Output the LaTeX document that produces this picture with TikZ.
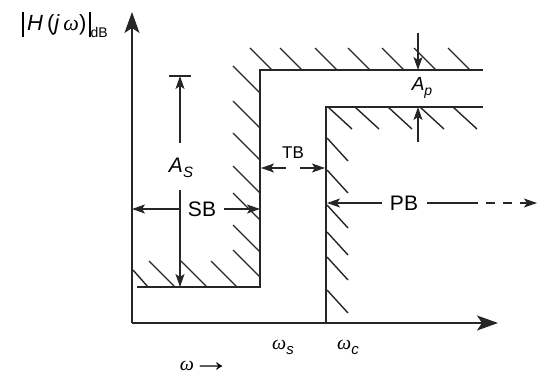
\documentclass[tikz,border=0pt]{standalone}
\usepackage{fontspec}
\usepackage{graphicx}
\setmainfont{Liberation Sans}
\newfontfamily\omfont{Liberation Serif}
\usetikzlibrary{arrows.meta}
\newcommand{\om}{{\omfont\itshape ω}}
\tikzset{
  mainline/.style={line width=1.7pt, color=black!85},
  hatch/.style={line width=1.4pt, color=black!85},
  dim/.style={line width=1.3pt, color=black!85},
  dimtip/.style={-{Stealth[length=13pt,width=9pt,inset=3pt]}},
  axtip/.style={-{Stealth[length=21pt,width=15pt,inset=5pt]}},
  lbl/.style={inner sep=0pt, font=\fontsize{21}{24}\selectfont},
}
\begin{document}
\begin{tikzpicture}[x=1pt,y=-1pt]
\useasboundingbox (0,0) rectangle (538,379);
% key points
\coordinate (O) at (132,323);
\coordinate (Ytop) at (132,12);
\coordinate (Xend) at (498,323);
\coordinate (SBl) at (137,287);
\coordinate (SBc) at (260,287);
\coordinate (TLc) at (260,70);
\coordinate (TR) at (483,70);
\coordinate (PBb) at (326,323);
\coordinate (PBc) at (326,107);
\coordinate (PR) at (483,107);

% axes
\draw[mainline,axtip] (O) -- (Ytop);
\draw[mainline,axtip] (O) -- (Xend);

% stopband / passband boundaries
\draw[mainline] (SBl) -- (SBc) -- (TLc) -- (TR);
\draw[mainline] (PBb) -- (PBc) -- (PR);

% hatches above top line
\foreach \x in {272,302,337,370,404,436,470}
  \draw[hatch] (\x,70) -- ++(-22,-22);
% hatches left of stopband edge
\foreach \y in {93,128,160,193,220,252,277}
  \draw[hatch] (260,\y) -- ++(-27,-27);
% hatches above stopband floor
\draw[hatch] (148,287) -- ++(-15,-17);
\foreach \x in {175,207,237}
  \draw[hatch] (\x,287) -- ++(-26,-26);
% hatches below passband line
\foreach \x in {328,355,388,420,453}
  \draw[hatch] (\x,107) -- ++(24,22);
% hatches right of passband edge
\foreach \y in {138,170,205,232,257,290}
  \draw[hatch] (327,\y) -- ++(21,23);

% A_S
\coordinate (ASt) at (180,76);
\coordinate (ASb) at (180,287);
\draw[dim] (169,76) -- (191,76);
\node[lbl] (AS) at (181,168) {\textit{A}\raisebox{-5pt}{\fontsize{15}{17}\selectfont\textit{S}}};
\draw[dim,dimtip] (180,143) -- (ASt);
\draw[dim,dimtip] (180,190) -- (ASb);

% SB
\node[lbl] (SB) at (202,209) {SB};
\draw[dim,dimtip] (SB.west) ++(-8,0) -- (132,209);
\draw[dim,dimtip] (SB.east) ++(8,0) -- (260,209);

% TB
\node[inner sep=0pt, font=\fontsize{17}{19}\selectfont] (TB) at (293,153) {TB};
\draw[dim,dimtip] (286,168) -- (261,168);
\draw[dim,dimtip] (300,168) -- (325,168);

% PB
\node[lbl] (PB) at (404,203) {PB};
\draw[dim,dimtip] (382,203) -- (327,203);
\draw[dim] (427,203) -- (478,203);
\draw[dim,dashed,dash pattern=on 9pt off 8pt,dimtip] (486,203) -- (537,203);

% A_p
\draw[dim,dimtip] (418,33) -- (418,70);
\draw[dim,dimtip] (418,142) -- (418,107);
\node[inner sep=0pt, font=\fontsize{19}{22}\selectfont] (Ap) at (422,88) {\textit{A}\raisebox{-5pt}{\fontsize{14}{16}\selectfont\textit{p}}};

% axis labels
\node[inner sep=0pt, font=\fontsize{22}{24}\selectfont] (H) at (65,25)
  {\rule[-6pt]{1.3pt}{25pt}\,\textit{H}\hspace{4pt}(\textit{j}\,\om)\hspace{3pt}\rule[-6pt]{1.3pt}{25pt}\raisebox{-7pt}{\fontsize{14}{16}\selectfont dB}};
\node[inner sep=0pt, font=\fontsize{20}{22}\selectfont] (ws) at (283,347) {\om\raisebox{-5pt}{\fontsize{15}{16}\selectfont\textit{s}}};
\node[inner sep=0pt, font=\fontsize{20}{22}\selectfont] (wc) at (348,347) {\om\raisebox{-5pt}{\fontsize{15}{16}\selectfont\textit{c}}};
\node[inner sep=0pt, font=\fontsize{20}{22}\selectfont] (wa) at (205,366) {\om\hspace{-2pt}\raisebox{-1pt}{\scalebox{1.9}[1.5]{\omfont →}}};
\end{tikzpicture}
\end{document}
